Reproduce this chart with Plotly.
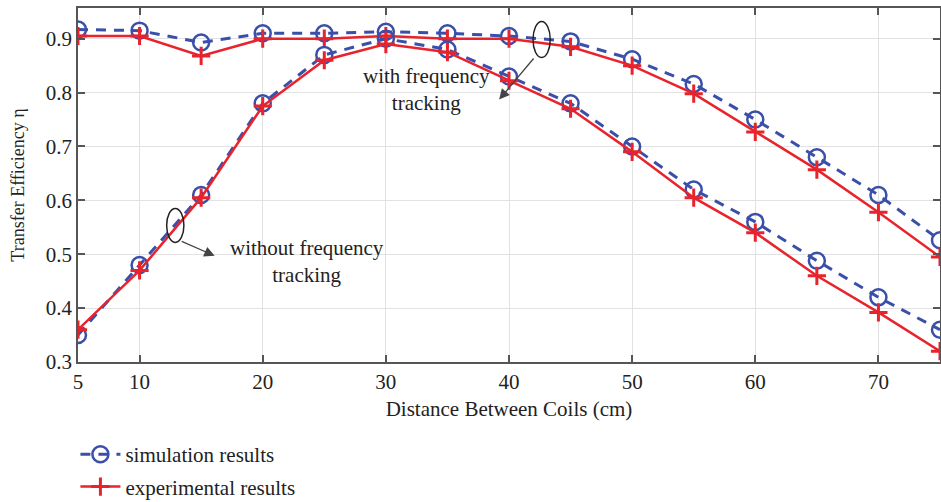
import plotly.graph_objects as go

distance = [5, 10, 15, 20, 25, 30, 35, 40, 45, 50, 55, 60, 65, 70, 75]
sim_with = [0.917, 0.915, 0.893, 0.910, 0.910, 0.913, 0.910, 0.905, 0.895, 0.862, 0.816, 0.750, 0.680, 0.610, 0.526]
exp_with = [0.905, 0.905, 0.868, 0.900, 0.900, 0.905, 0.900, 0.900, 0.885, 0.850, 0.798, 0.727, 0.657, 0.578, 0.495]
sim_without = [0.350, 0.480, 0.610, 0.780, 0.870, 0.900, 0.880, 0.830, 0.780, 0.700, 0.620, 0.560, 0.488, 0.420, 0.360]
exp_without = [0.360, 0.470, 0.605, 0.775, 0.860, 0.890, 0.875, 0.822, 0.770, 0.690, 0.605, 0.540, 0.460, 0.392, 0.320]
x_ticks = [5, 10, 20, 30, 40, 50, 60, 70]
y_ticks = [0.3, 0.4, 0.5, 0.6, 0.7, 0.8, 0.9]

BLUE = "#3a4faa"
RED = "#e8232b"
FONT = "Liberation Serif"
TXT = "#222222"

fig = go.Figure()

def sim_trace(y, show):
    return go.Scatter(x=distance, y=y, mode="lines+markers", name="simulation results",
                      showlegend=show, legendgroup="sim",
                      line=dict(color=BLUE, width=3, dash="10px,8px"),
                      marker=dict(symbol="circle-open", size=16, color=BLUE, line=dict(width=2.5, color=BLUE)))

def exp_trace(y, show):
    return go.Scatter(x=distance, y=y, mode="lines+markers", name="experimental results",
                      showlegend=show, legendgroup="exp",
                      line=dict(color=RED, width=2.5),
                      marker=dict(symbol="cross-thin", size=13, color=RED, line=dict(width=3, color=RED)))

fig.add_trace(sim_trace(sim_with, True))
fig.add_trace(exp_trace(exp_with, True))
fig.add_trace(sim_trace(sim_without, False))
fig.add_trace(exp_trace(exp_without, False))

# ellipses
fig.add_shape(type="circle", xref="x", yref="y", x0=41.95, x1=43.35, y0=0.865, y1=0.932,
              line=dict(color=TXT, width=1.5))
fig.add_shape(type="circle", xref="x", yref="y", x0=12.2, x1=13.6, y0=0.522, y1=0.585,
              line=dict(color=TXT, width=1.5))

# arrows
fig.add_annotation(x=39.2, y=0.787, ax=42.1, ay=0.866, xref="x", yref="y", axref="x", ayref="y",
                   text="", showarrow=True, arrowhead=2, arrowsize=1.6, arrowwidth=1.3, arrowcolor="#444444")
fig.add_annotation(x=16.1, y=0.497, ax=13.3, ay=0.525, xref="x", yref="y", axref="x", ayref="y",
                   text="", showarrow=True, arrowhead=2, arrowsize=1.6, arrowwidth=1.3, arrowcolor="#444444")

fig.add_annotation(x=33.3, y=0.805, xref="x", yref="y", text="with frequency<br>tracking",
                   showarrow=False, font=dict(family=FONT, size=21, color=TXT), align="center")
fig.add_annotation(x=23.6, y=0.487, xref="x", yref="y", text="without frequency<br>tracking",
                   showarrow=False, font=dict(family=FONT, size=21, color=TXT), align="center")

fig.update_layout(
    width=941, height=502,
    margin=dict(l=78, r=1, t=8, b=140, autoexpand=False),
    paper_bgcolor="white", plot_bgcolor="white",
    font=dict(family=FONT, size=21, color=TXT),
    showlegend=True,
    legend=dict(x=-0.003, y=-0.41, xanchor="left", yanchor="bottom", orientation="v",
                font=dict(family=FONT, size=21, color=TXT), bgcolor="rgba(0,0,0,0)",
                tracegroupgap=2, itemwidth=40),
)
fig.update_xaxes(range=[5, 75], tickvals=x_ticks, ticktext=[str(v) for v in x_ticks],
                 tickfont=dict(family=FONT, size=21, color=TXT),
                 showgrid=True, gridcolor="#e2e2e2", gridwidth=1,
                 showline=True, linecolor="#555555", linewidth=1.5, mirror="ticks",
                 ticks="inside", ticklen=7, tickcolor="#555555", tickwidth=1.5,
                 zeroline=False,
                 title=dict(text="Distance Between Coils (cm)", font=dict(family=FONT, size=21), standoff=8))
fig.update_yaxes(range=[0.3, 0.957], tickvals=y_ticks, ticktext=["%.1f" % v for v in y_ticks],
                 tickfont=dict(family=FONT, size=21, color=TXT),
                 showgrid=True, gridcolor="#e2e2e2", gridwidth=1,
                 showline=True, linecolor="#555555", linewidth=1.5, mirror="ticks",
                 ticks="inside", ticklen=7, tickcolor="#555555", tickwidth=1.5,
                 zeroline=False,
                 title=dict(text="Transfer Efficiency η", font=dict(family=FONT, size=18), standoff=16))

fig.write_html("out.html")
